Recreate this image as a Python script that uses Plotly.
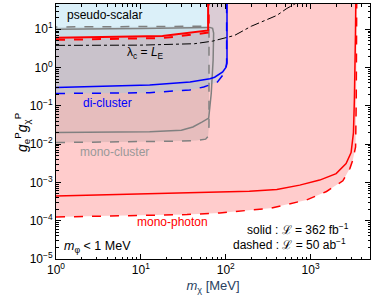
import plotly.graph_objects as go

# ---------------- data ----------------
# mono-photon, solid (362 fb^-1): lower sensitivity curve incl. right edge
mp_solid_low_m = [1, 3, 10, 35, 100, 190, 400, 745, 1280, 2000, 2620, 3000, 3200, 3280, 3380, 3420]
mp_solid_low_g = [4.4e-4, 4.7e-4, 5.0e-4, 5.3e-4, 5.6e-4, 5.9e-4, 6.5e-4, 8.5e-4, 1.15e-3, 1.7e-3,
                  3.1e-3, 6.0e-3, 2.0e-2, 0.14, 8, 100]
# mono-photon, solid: upper edge at small mass
mp_solid_up_m = [1, 10, 18, 25, 33, 42, 50, 60, 62, 62]
mp_solid_up_g = [6.0, 6.6, 6.7, 7.3, 7.8, 8.3, 8.8, 9.2, 9.3, 100]
# mono-photon, dashed (50 ab^-1)
mp_dash_low_m = [1, 3, 10, 35, 85, 330, 900, 1540, 2400, 2900, 3140, 3390, 3450, 3500]
mp_dash_low_g = [1.25e-4, 1.32e-4, 1.38e-4, 1.45e-4, 1.6e-4, 2.1e-4, 3.5e-4, 5.8e-4, 1.1e-3,
                 2.3e-3, 3.8e-3, 8.5e-3, 0.14, 100]
mp_dash_up_m = [1, 10, 18, 25, 33, 42, 50, 60, 63, 63]
mp_dash_up_g = [5.3, 5.8, 5.9, 6.4, 6.9, 7.3, 7.7, 8.1, 8.2, 100]

# mono-cluster (closed contours)
mc_solid_m = [1, 12.7, 30, 41, 53, 63, 67.5, 71, 72, 70, 65, 35, 10, 1]
mc_solid_g = [0.020, 0.021, 0.023, 0.028, 0.038, 0.048, 0.21, 1.55, 7.9, 10.6, 11.2, 10.8, 10.4, 10.0]
mc_dash_m = [1, 10, 30, 45, 58, 62, 63.5, 63.5, 63, 60, 30, 10, 1]
mc_dash_g = [0.011, 0.0115, 0.012, 0.0125, 0.0135, 0.016, 0.03, 8, 11, 12.0, 11.9, 11.7, 11.5]

# di-cluster
dc_solid_m = [1, 12.7, 38, 65, 74, 92, 100, 103.5, 103.5]
dc_solid_g = [0.30, 0.35, 0.42, 0.51, 0.56, 0.77, 1.0, 1.3, 100]
dc_dash_m = [1, 12.7, 37.6, 55, 80, 95, 101.5, 102.5, 102.5]
dc_dash_g = [0.21, 0.22, 0.26, 0.31, 0.42, 0.69, 1.04, 1.4, 100]

# lambda_c = L_E line
lam_m = [1, 10, 43, 70, 127, 200, 400, 525, 700]
lam_g = [3.8, 3.85, 4.2, 4.9, 6.9, 12, 23, 35, 50]

x_tick_vals = [1, 10, 100, 1000]
x_tick_text = ["10<sup>0</sup>", "10<sup>1</sup>", "10<sup>2</sup>", "10<sup>3</sup>"]
y_tick_vals = [1e-5, 1e-4, 1e-3, 1e-2, 1e-1, 1, 10]
y_tick_text = ["10<sup>−5</sup>", "10<sup>−4</sup>", "10<sup>−3</sup>", "10<sup>−2</sup>",
               "10<sup>−1</sup>", "10<sup>0</sup>", "10<sup>1</sup>"]

x_minor = [k * 10 ** e for e in range(0, 4) for k in range(2, 10)]
y_minor = [k * 10.0 ** e for e in range(-5, 2) for k in range(2, 10)]

RED = "#ff0000"
BLUE = "#0000ff"
GRAY = "#808080"
FONT = "Liberation Sans, Arial, sans-serif"

fig = go.Figure()

# ---------------- filled regions ----------------
red_fill_x = mp_solid_up_m + mp_dash_low_m[::-1]
red_fill_y = mp_solid_up_g + mp_dash_low_g[::-1]
fig.add_trace(go.Scatter(x=red_fill_x, y=red_fill_y, fill="toself", mode="none",
                         fillcolor="rgba(255,0,0,0.2)", hoverinfo="skip", showlegend=False))
fig.add_trace(go.Scatter(x=mc_dash_m, y=mc_dash_g, fill="toself", mode="none",
                         fillcolor="rgba(128,128,128,0.2)", hoverinfo="skip", showlegend=False))
blue_fill_x = dc_dash_m + [dc_dash_m[0]]
blue_fill_y = dc_dash_g + [dc_dash_g[-1]]
fig.add_trace(go.Scatter(x=blue_fill_x, y=blue_fill_y, fill="toself", mode="none",
                         fillcolor="rgba(135,206,235,0.3)", hoverinfo="skip", showlegend=False))

# ---------------- lines ----------------
def line(x, y, color, dash="solid", width=1.5):
    fig.add_trace(go.Scatter(x=x, y=y, mode="lines", showlegend=False, hoverinfo="skip",
                             line=dict(color=color, dash=dash, width=width)))

line(mc_solid_m, mc_solid_g, GRAY)
line(mc_dash_m, mc_dash_g, GRAY, "dash")
line(dc_solid_m, dc_solid_g, BLUE)
line(dc_dash_m, dc_dash_g, BLUE, "dash")
line(mp_solid_low_m, mp_solid_low_g, RED)
line(mp_dash_low_m, mp_dash_low_g, RED, "dash")
line(mp_solid_up_m, mp_solid_up_g, RED, width=2)
line(mp_dash_up_m, mp_dash_up_g, RED, "dash", width=2)
line(lam_m, lam_g, "black", "dashdot", width=1)

# ---------------- annotations ----------------
def ann(text, px, py, color="black", size=12, xanchor="center", angle=0):
    fig.add_annotation(text=text, x=(px - 56) / 314, y=(259 - py) / 255, xref="paper", yref="paper",
                       showarrow=False, xanchor=xanchor, yanchor="middle", textangle=angle,
                       font=dict(color=color, size=size, family=FONT))

ann("pseudo-scalar", 104, 15)
ann("λ<sub>c</sub> = <i>L</i><sub>E</sub>", 145, 53)
ann("di-cluster", 107, 103, BLUE)
ann("mono-cluster", 114, 152, "#999999")
ann("mono-photon", 172, 222, RED)
ann("<i>m</i><sub>φ</sub> &lt; 1 MeV", 62, 247, xanchor="left", size=12.5)
ann("solid : ℒ = 362 fb<sup>−1</sup>", 351, 229, xanchor="right")
ann("dashed : ℒ = 50 ab<sup>−1</sup>", 348, 244, xanchor="right")
# y-axis title
ann("<i>g</i><sub>e</sub><sup>P</sup><i>g</i><sub>χ</sub><sup>P</sup>", 22, 132, size=14, angle=-90)

def axis_common(minor_vals):
    return dict(showgrid=False, zeroline=False, showline=True, linecolor="black", linewidth=1,
                mirror="allticks", ticks="inside", ticklen=5, tickcolor="black",
                tickfont=dict(size=12, family=FONT, color="black"),
                minor=dict(tickmode="array", tickvals=minor_vals, ticks="inside", ticklen=2.5,
                           tickcolor="black", showgrid=False))

fig.update_xaxes(type="log", range=[0, 3.7], tickvals=x_tick_vals, ticktext=x_tick_text,
                 title=dict(text="<i>m</i><sub>χ</sub> [MeV]", font=dict(size=13, family=FONT), standoff=4),
                 **axis_common(x_minor))
fig.update_yaxes(type="log", range=[-5, 1.66], tickvals=y_tick_vals, ticktext=y_tick_text,
                 **axis_common(y_minor))

fig.update_layout(width=374, height=298, margin=dict(l=56, r=4, t=4, b=39),
                  plot_bgcolor="white", paper_bgcolor="white", font=dict(family=FONT))

fig.write_html("out.html", config={"displayModeBar": False},
               post_script="document.body.style.margin='0';document.body.style.padding='0';")
